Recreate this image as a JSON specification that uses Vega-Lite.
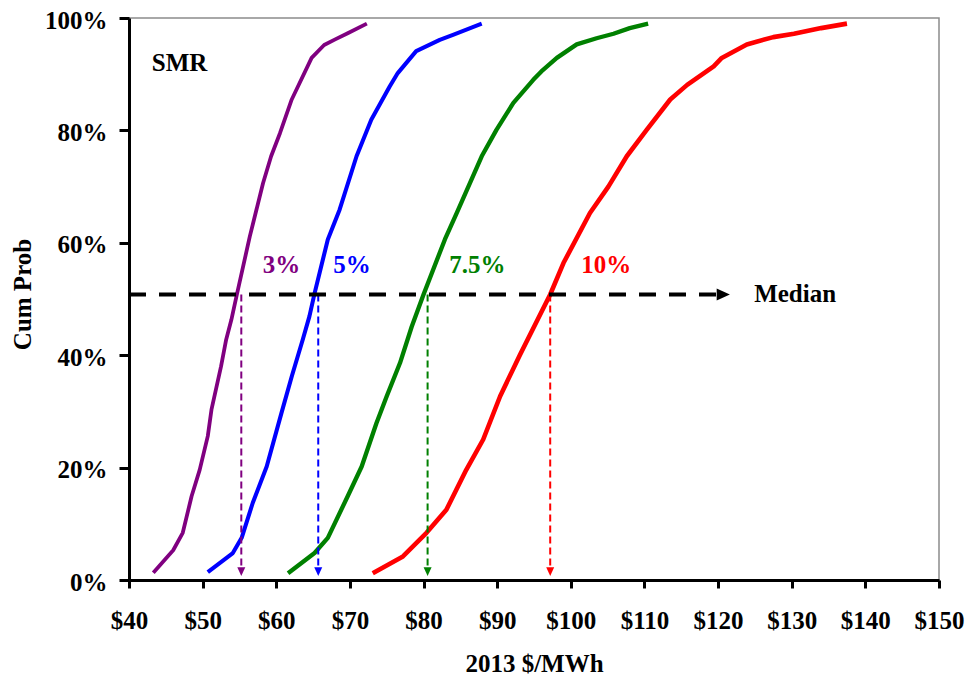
{
  "$schema": "https://vega.github.io/schema/vega-lite/v6.json",
  "autosize": {"type": "none"},
  "width": 810,
  "height": 562,
  "padding": {"left": 129, "top": 18, "right": 30, "bottom": 97},
  "background": "white",
  "config": {
    "view": {"stroke": "#8c8c8c", "strokeWidth": 1.5},
    "font": "Liberation Serif"
  },
  "datasets": {
    "curves": [
      {"series": "3%", "price": 43.3, "prob": 1.3},
      {"series": "3%", "price": 46.0, "prob": 5.3},
      {"series": "3%", "price": 47.3, "prob": 8.4},
      {"series": "3%", "price": 48.5, "prob": 14.9},
      {"series": "3%", "price": 49.6, "prob": 19.6},
      {"series": "3%", "price": 50.7, "prob": 25.6},
      {"series": "3%", "price": 51.2, "prob": 30.3},
      {"series": "3%", "price": 52.5, "prob": 38.0},
      {"series": "3%", "price": 53.2, "prob": 42.8},
      {"series": "3%", "price": 53.9, "prob": 46.3},
      {"series": "3%", "price": 54.6, "prob": 50.5},
      {"series": "3%", "price": 56.4, "prob": 61.1},
      {"series": "3%", "price": 58.2, "prob": 70.6},
      {"series": "3%", "price": 59.3, "prob": 75.4},
      {"series": "3%", "price": 60.5, "prob": 79.5},
      {"series": "3%", "price": 62.1, "prob": 85.5},
      {"series": "3%", "price": 64.8, "prob": 92.9},
      {"series": "3%", "price": 66.5, "prob": 95.2},
      {"series": "3%", "price": 68.0, "prob": 96.2},
      {"series": "3%", "price": 69.7, "prob": 97.3},
      {"series": "3%", "price": 72.3, "prob": 99.0},
      {"series": "5%", "price": 50.7, "prob": 1.4},
      {"series": "5%", "price": 54.1, "prob": 4.8},
      {"series": "5%", "price": 55.3, "prob": 7.5},
      {"series": "5%", "price": 56.8, "prob": 13.7},
      {"series": "5%", "price": 58.7, "prob": 20.2},
      {"series": "5%", "price": 60.7, "prob": 29.7},
      {"series": "5%", "price": 62.1, "prob": 36.2},
      {"series": "5%", "price": 63.6, "prob": 42.8},
      {"series": "5%", "price": 64.5, "prob": 46.9},
      {"series": "5%", "price": 65.2, "prob": 51.0},
      {"series": "5%", "price": 67.0, "prob": 60.6},
      {"series": "5%", "price": 68.6, "prob": 65.9},
      {"series": "5%", "price": 70.9, "prob": 75.4},
      {"series": "5%", "price": 72.9, "prob": 81.9},
      {"series": "5%", "price": 75.4, "prob": 87.8},
      {"series": "5%", "price": 76.5, "prob": 90.2},
      {"series": "5%", "price": 79.0, "prob": 94.1},
      {"series": "5%", "price": 82.2, "prob": 96.1},
      {"series": "5%", "price": 84.0, "prob": 97.0},
      {"series": "5%", "price": 87.9, "prob": 99.0},
      {"series": "7.5%", "price": 61.6, "prob": 1.2},
      {"series": "7.5%", "price": 65.2, "prob": 4.8},
      {"series": "7.5%", "price": 67.0, "prob": 7.5},
      {"series": "7.5%", "price": 69.7, "prob": 14.9},
      {"series": "7.5%", "price": 71.6, "prob": 20.2},
      {"series": "7.5%", "price": 73.6, "prob": 27.9},
      {"series": "7.5%", "price": 75.0, "prob": 32.7},
      {"series": "7.5%", "price": 76.8, "prob": 38.6},
      {"series": "7.5%", "price": 78.4, "prob": 45.1},
      {"series": "7.5%", "price": 80.0, "prob": 50.8},
      {"series": "7.5%", "price": 82.9, "prob": 60.6},
      {"series": "7.5%", "price": 84.5, "prob": 65.3},
      {"series": "7.5%", "price": 87.9, "prob": 75.4},
      {"series": "7.5%", "price": 89.9, "prob": 80.1},
      {"series": "7.5%", "price": 92.2, "prob": 84.9},
      {"series": "7.5%", "price": 94.9, "prob": 89.0},
      {"series": "7.5%", "price": 96.0, "prob": 90.5},
      {"series": "7.5%", "price": 98.1, "prob": 92.9},
      {"series": "7.5%", "price": 100.8, "prob": 95.3},
      {"series": "7.5%", "price": 103.5, "prob": 96.4},
      {"series": "7.5%", "price": 105.8, "prob": 97.2},
      {"series": "7.5%", "price": 108.0, "prob": 98.2},
      {"series": "7.5%", "price": 110.5, "prob": 99.0},
      {"series": "10%", "price": 73.1, "prob": 1.2},
      {"series": "10%", "price": 77.2, "prob": 4.2},
      {"series": "10%", "price": 80.4, "prob": 8.4},
      {"series": "10%", "price": 83.1, "prob": 12.5},
      {"series": "10%", "price": 85.8, "prob": 19.6},
      {"series": "10%", "price": 88.1, "prob": 25.0},
      {"series": "10%", "price": 90.4, "prob": 32.7},
      {"series": "10%", "price": 93.1, "prob": 40.1},
      {"series": "10%", "price": 97.2, "prob": 50.8},
      {"series": "10%", "price": 99.0, "prob": 56.4},
      {"series": "10%", "price": 102.6, "prob": 65.3},
      {"series": "10%", "price": 105.1, "prob": 70.0},
      {"series": "10%", "price": 107.6, "prob": 75.4},
      {"series": "10%", "price": 110.3, "prob": 80.1},
      {"series": "10%", "price": 113.5, "prob": 85.5},
      {"series": "10%", "price": 115.8, "prob": 88.1},
      {"series": "10%", "price": 119.4, "prob": 91.4},
      {"series": "10%", "price": 120.5, "prob": 92.9},
      {"series": "10%", "price": 123.9, "prob": 95.3},
      {"series": "10%", "price": 127.5, "prob": 96.6},
      {"series": "10%", "price": 130.3, "prob": 97.2},
      {"series": "10%", "price": 134.0, "prob": 98.2},
      {"series": "10%", "price": 137.5, "prob": 99.0}
    ],
    "medians": [
      {"series": "3%", "price": 55.25, "top": 50.8, "bottom": 2.2, "tip": 0.7, "labelX": 60.7},
      {"series": "5%", "price": 65.7, "top": 50.8, "bottom": 2.2, "tip": 0.7, "labelX": 70.3},
      {"series": "7.5%", "price": 80.55, "top": 50.8, "bottom": 2.2, "tip": 0.7, "labelX": 87.3},
      {"series": "10%", "price": 97.2, "top": 50.8, "bottom": 2.2, "tip": 0.7, "labelX": 104.8}
    ]
  },
  "layer": [
    {
      "data": {"name": "curves"},
      "mark": {"type": "line", "strokeCap": "butt", "strokeJoin": "round"},
      "encoding": {
        "x": {
          "field": "price", "type": "quantitative",
          "scale": {"domain": [40, 150], "nice": false, "zero": false},
          "axis": {
            "values": [40, 50, 60, 70, 80, 90, 100, 110, 120, 130, 140, 150],
            "labelExpr": "'$' + datum.value",
            "grid": false,
            "domainColor": "black", "domainWidth": 3,
            "tickColor": "black", "tickWidth": 3, "tickSize": 8,
            "labelFont": "Liberation Serif", "labelFontWeight": "bold", "labelFontSize": 25,
            "labelColor": "black", "labelBaseline": "alphabetic", "labelPadding": 40,
            "labelFlush": false, "labelOverlap": false, "labelBound": false,
            "title": "2013 $/MWh",
            "titleFont": "Liberation Serif", "titleFontWeight": "bold", "titleFontSize": 25,
            "titleColor": "black", "titleBaseline": "alphabetic", "titleY": 91.5, "titleX": 405
          }
        },
        "y": {
          "field": "prob", "type": "quantitative",
          "scale": {"domain": [0, 100], "nice": false},
          "axis": {
            "values": [0, 20, 40, 60, 80, 100],
            "labelExpr": "datum.value + '%'",
            "grid": false,
            "domainColor": "black", "domainWidth": 3,
            "tickColor": "black", "tickWidth": 3, "tickSize": 10,
            "labelFont": "Liberation Serif", "labelFontWeight": "bold", "labelFontSize": 25,
            "labelColor": "black", "labelBaseline": "alphabetic", "labelOffset": 10, "labelPadding": 12,
            "labelFlush": false, "labelOverlap": false, "labelBound": false,
            "title": "Cum Prob",
            "titleFont": "Liberation Serif", "titleFontWeight": "bold", "titleFontSize": 25,
            "titleColor": "black", "titleAngle": -90, "titleAlign": "center", "titleBaseline": "middle",
            "titleX": -107, "titleY": 276
          }
        },
        "color": {
          "field": "series", "type": "nominal",
          "scale": {"domain": ["3%", "5%", "7.5%", "10%"], "range": ["#800080", "#0000FF", "#008000", "#FF0000"]},
          "legend": null
        },
        "strokeWidth": {
          "field": "series", "type": "nominal",
          "scale": {"domain": ["3%", "5%", "7.5%", "10%"], "range": [3.8, 4.6, 4.4, 4.6]},
          "legend": null
        }
      }
    },
    {
      "data": {"name": "medians"},
      "mark": {"type": "rule", "strokeDash": [7, 4], "strokeWidth": 2},
      "encoding": {
        "x": {"field": "price", "type": "quantitative"},
        "y": {"field": "top", "type": "quantitative"},
        "y2": {"field": "bottom"},
        "color": {"field": "series", "type": "nominal", "legend": null}
      }
    },
    {
      "data": {"name": "medians"},
      "mark": {"type": "point", "filled": true, "opacity": 1, "strokeWidth": 0, "shape": "M-1,-2.2L1,-2.2L0,0Z", "size": 64},
      "encoding": {
        "x": {"field": "price", "type": "quantitative"},
        "y": {"field": "tip", "type": "quantitative"},
        "color": {"field": "series", "type": "nominal", "legend": null}
      }
    },
    {
      "data": {"values": [{"from": 40, "to": 120.2, "level": 50.8}]},
      "mark": {"type": "rule", "color": "black", "strokeDash": [17, 13], "strokeWidth": 4},
      "encoding": {
        "x": {"field": "from", "type": "quantitative"},
        "x2": {"field": "to"},
        "y": {"field": "level", "type": "quantitative"}
      }
    },
    {
      "data": {"values": [{"tipX": 121.6, "level": 50.8}]},
      "mark": {"type": "point", "filled": true, "opacity": 1, "strokeWidth": 0, "color": "black", "shape": "M-2.2,-1L-2.2,1L0,0Z", "size": 144},
      "encoding": {
        "x": {"field": "tipX", "type": "quantitative"},
        "y": {"field": "level", "type": "quantitative"}
      }
    },
    {
      "data": {"name": "medians"},
      "mark": {"type": "text", "font": "Liberation Serif", "fontWeight": "bold", "fontSize": 25, "align": "center", "baseline": "alphabetic"},
      "encoding": {
        "x": {"field": "labelX", "type": "quantitative"},
        "y": {"datum": 54.6, "type": "quantitative"},
        "text": {"field": "series"},
        "color": {"field": "series", "type": "nominal", "legend": null}
      }
    },
    {
      "data": {"values": [{"label": "Median", "px": 124.9, "py": 49.4}, {"label": "SMR", "px": 43.1, "py": 90.5}]},
      "mark": {"type": "text", "font": "Liberation Serif", "fontWeight": "bold", "fontSize": 25, "align": "left", "baseline": "alphabetic", "color": "black"},
      "encoding": {
        "x": {"field": "px", "type": "quantitative"},
        "y": {"field": "py", "type": "quantitative"},
        "text": {"field": "label"}
      }
    }
  ]
}
